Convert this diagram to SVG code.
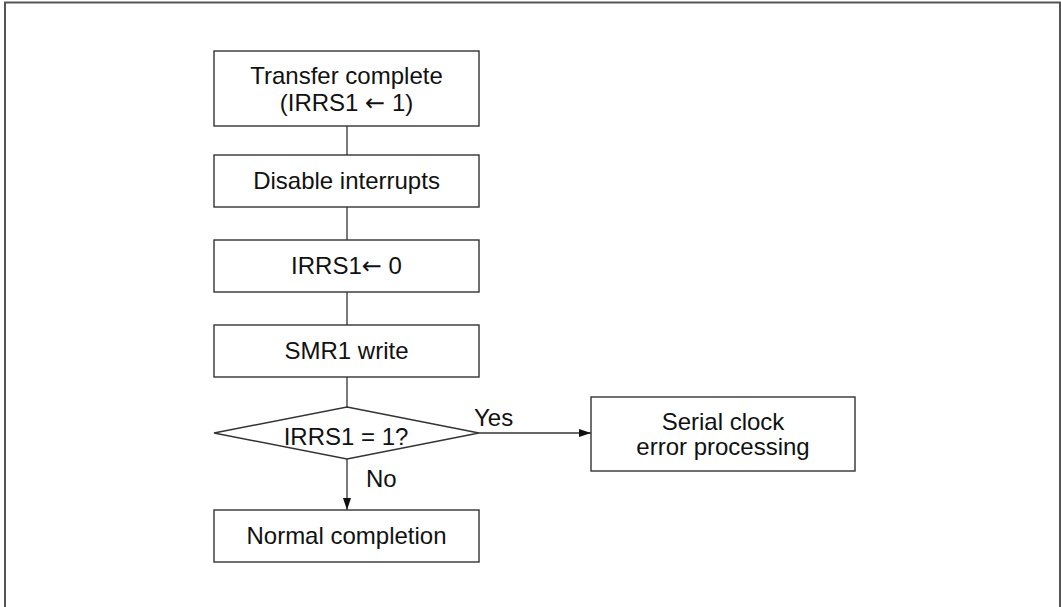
<svg xmlns="http://www.w3.org/2000/svg" width="1061" height="607" viewBox="0 0 1061 607">
<style>
.box{fill:#fff;stroke:#333;stroke-width:1.4}
.ln{fill:none;stroke:#333;stroke-width:1.3}
text{font-family:"Liberation Sans",Arial,sans-serif;font-size:24px;fill:#111}
.c{text-anchor:middle}
.ar{font-family:"DejaVu Sans",sans-serif;font-size:24px}
</style>
<defs>
<marker id="ah" markerWidth="12" markerHeight="8" refX="12" refY="4" orient="auto" markerUnits="userSpaceOnUse">
<path d="M0,0 L12,4 L0,8 Z" fill="#111"/>
</marker>
</defs>
<rect x="0" y="0" width="1061" height="607" fill="#fff"/>
<rect id="frame" x="5" y="2.5" width="1055" height="620" fill="none" stroke="#555" stroke-width="2"/>
<g id="connectors">
<line class="ln" x1="347" y1="126" x2="347" y2="155"/>
<line class="ln" x1="347" y1="207" x2="347" y2="240"/>
<line class="ln" x1="347" y1="292" x2="347" y2="325"/>
<line class="ln" x1="347" y1="377" x2="347" y2="407"/>
<line class="ln" x1="347" y1="459" x2="347" y2="510" marker-end="url(#ah)"/>
<line class="ln" x1="479" y1="433" x2="591" y2="433" marker-end="url(#ah)"/>
<text x="474" y="426">Yes</text>
<text x="366" y="487">No</text>
</g>
<g id="n1">
<rect class="box" x="214" y="51" width="265" height="75"/>
<text class="c" x="346.5" y="84">Transfer complete</text>
<text class="c" x="346.5" y="111">(IRRS1 <tspan class="ar">←</tspan> 1)</text>
</g>
<g id="n2">
<rect class="box" x="214" y="155" width="265" height="52"/>
<text class="c" x="346.5" y="189">Disable interrupts</text>
</g>
<g id="n3">
<rect class="box" x="214" y="240" width="265" height="52"/>
<text class="c" x="346.5" y="274">IRRS1<tspan class="ar">←</tspan> 0</text>
</g>
<g id="n4">
<rect class="box" x="214" y="325" width="265" height="52"/>
<text class="c" x="346.5" y="359">SMR1 write</text>
</g>
<g id="d1">
<polygon class="box" points="347,407 479,433 347,459 214,433"/>
<text class="c" x="346" y="445">IRRS1 = 1?</text>
</g>
<g id="n5">
<rect class="box" x="591" y="397" width="264" height="74"/>
<text class="c" x="723" y="430">Serial clock</text>
<text class="c" x="723" y="455">error processing</text>
</g>
<g id="n6">
<rect class="box" x="214" y="510" width="265" height="52"/>
<text class="c" x="346.5" y="544">Normal completion</text>
</g>
</svg>
